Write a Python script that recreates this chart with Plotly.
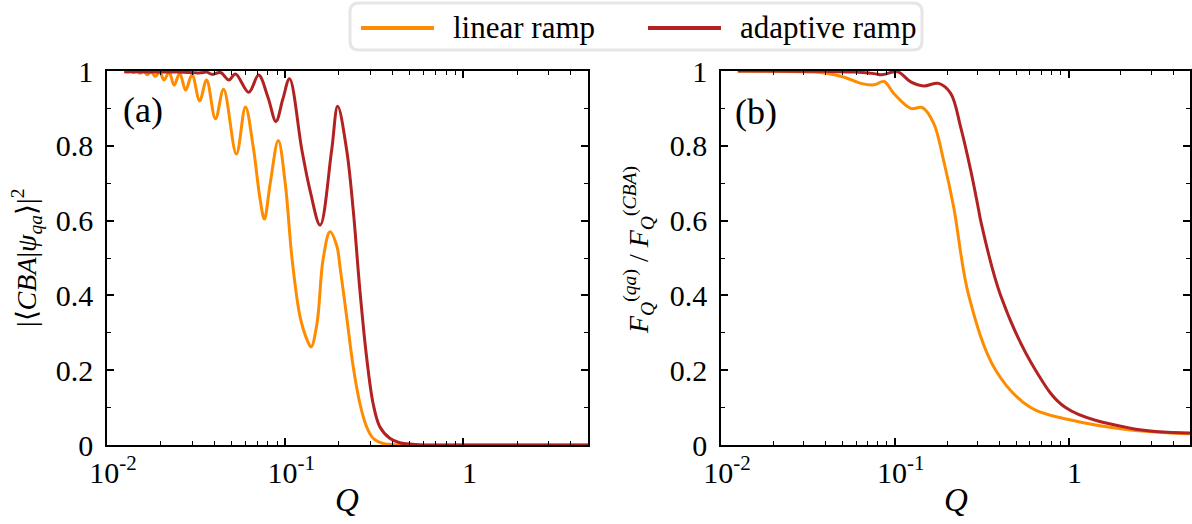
import math
import plotly.graph_objects as go

# ---------------- data ----------------
# panel (a): overlap |<CBA|psi_qa>|^2 versus Q
q_a_linear = [0.0125, 0.0130, 0.01353, 0.01408, 0.01468, 0.01534, 0.01605, 0.01684, 0.0177,
              0.01866, 0.0197, 0.0209, 0.0223, 0.0238, 0.0256, 0.0276, 0.0300, 0.0331, 0.0362,
              0.0406, 0.0451, 0.0532, 0.0598, 0.0660, 0.0724, 0.0764, 0.0824, 0.0914, 0.1000,
              0.1094, 0.1213, 0.1327, 0.1397, 0.1509, 0.1630, 0.1783, 0.1953, 0.2029, 0.2212,
              0.2408, 0.2624, 0.2860, 0.3113, 0.3540, 0.4391, 1.0, 5.0]
v_a_linear = [0.999, 0.997, 0.999, 0.996, 0.999, 0.994, 0.999, 0.990, 0.998,
              0.985, 0.998, 0.976, 0.997, 0.962, 0.994, 0.949, 0.990, 0.920, 0.976,
              0.872, 0.951, 0.778, 0.904, 0.800, 0.655, 0.604, 0.700, 0.814, 0.700,
              0.495, 0.342, 0.281, 0.262, 0.326, 0.495, 0.570, 0.530, 0.477, 0.343,
              0.209, 0.111, 0.049, 0.018, 0.004, 0.0, 0.0, 0.0]

q_a_adaptive = [0.0125, 0.025, 0.0334, 0.0362, 0.039, 0.0434, 0.0482, 0.0526, 0.0624, 0.0709,
                0.0800, 0.0887, 0.0970, 0.1057, 0.1240, 0.1379, 0.157, 0.1823, 0.197, 0.2212,
                0.2408, 0.2624, 0.2860, 0.3113, 0.3394, 0.3862, 0.4391, 0.5675, 1.0, 5.0]
v_a_adaptive = [0.998, 0.997, 0.995, 0.997, 0.991, 0.996, 0.976, 0.992, 0.943, 0.989,
                0.930, 0.865, 0.925, 0.979, 0.789, 0.680, 0.588, 0.789, 0.906, 0.789,
                0.628, 0.414, 0.236, 0.111, 0.049, 0.018, 0.006, 0.001, 0.0, 0.0]

# panel (b): F_Q^(qa) / F_Q^(CBA) versus Q
q_b_linear = [0.0125, 0.02, 0.0342, 0.045, 0.0523, 0.0638, 0.0760, 0.0868, 0.0987, 0.1236,
              0.1443, 0.1675, 0.1912, 0.2183, 0.2663, 0.3806, 0.6047, 1.0, 2.272, 5.0]
v_b_linear = [1.0, 0.999, 0.997, 0.990, 0.982, 0.967, 0.963, 0.972, 0.940, 0.900,
              0.902, 0.860, 0.760, 0.636, 0.400, 0.200, 0.100, 0.068, 0.040, 0.030]

q_b_adaptive = [0.0125, 0.04, 0.06, 0.0760, 0.0831, 0.0868, 0.1040, 0.1236, 0.1468, 0.1790,
                0.2098, 0.2394, 0.2734, 0.3040, 0.3121, 0.4066, 0.6461, 0.9612, 2.272, 5.0]
v_b_adaptive = [1.0, 0.999, 0.997, 0.993, 0.990, 0.991, 0.998, 0.971, 0.960, 0.967,
                0.940, 0.850, 0.735, 0.628, 0.600, 0.400, 0.200, 0.100, 0.045, 0.032]

series_names = ["linear ramp", "adaptive ramp"]
series_colors = ["#FF8C00", "#B22222"]

x_tickvals = [0.01, 0.1, 1]
x_ticktext = ["10<sup>-2</sup>", "10<sup>-1</sup>", "1"]
x_minor = [0.02, 0.03, 0.04, 0.05, 0.06, 0.07, 0.08, 0.09,
           0.2, 0.3, 0.4, 0.5, 0.6, 0.7, 0.8, 0.9, 2, 3, 4, 5]
y_tickvals = [0, 0.2, 0.4, 0.6, 0.8, 1]
y_ticktext = ["0", "0.2", "0.4", "0.6", "0.8", "1"]
y_minor = [0.1, 0.3, 0.5, 0.7, 0.9]

# ---------------- figure ----------------
W, H = 1192, 524
FONT = "'Liberation Serif', 'Times New Roman', Times, serif"


def px(x):
    return x / W


def py(y):
    return 1 - y / H


fig = go.Figure()
panels = [
    (q_a_linear, v_a_linear, q_a_adaptive, v_a_adaptive, "x", "y"),
    (q_b_linear, v_b_linear, q_b_adaptive, v_b_adaptive, "x2", "y2"),
]
for ql, vl, qd, vd, xa, ya in panels:
    fig.add_trace(go.Scatter(x=ql, y=vl, mode="lines", name=series_names[0],
                             line=dict(color=series_colors[0], width=3, shape="spline", smoothing=1),
                             xaxis=xa, yaxis=ya, showlegend=False))
    fig.add_trace(go.Scatter(x=qd, y=vd, mode="lines", name=series_names[1],
                             line=dict(color=series_colors[1], width=3, shape="spline", smoothing=1),
                             xaxis=xa, yaxis=ya, showlegend=False))

common_x = dict(type="log", range=[-2, math.log10(5)], showline=True, linecolor="black",
                linewidth=1.5, mirror="ticks", ticks="inside", ticklen=7, tickwidth=1.5,
                tickcolor="black", tickvals=x_tickvals, ticktext=x_ticktext,
                tickfont=dict(family=FONT, size=30, color="black"),
                showgrid=False, zeroline=False, automargin=False, ticklabelstandoff=0,
                ticklabelshift=6,
                minor=dict(tickvals=x_minor, ticks="inside", ticklen=4, tickwidth=1,
                           tickcolor="black", showgrid=False))
common_y = dict(range=[0, 1], showline=True, linecolor="black", linewidth=1.5, mirror="ticks",
                ticks="inside", ticklen=7, tickwidth=1.5, tickcolor="black",
                tickvals=y_tickvals, ticktext=y_ticktext,
                tickfont=dict(family=FONT, size=30, color="black"),
                showgrid=False, zeroline=False, automargin=False, ticklabelstandoff=6,
                minor=dict(tickvals=y_minor, ticks="inside", ticklen=4, tickwidth=1,
                           tickcolor="black", showgrid=False))

y_dom = [py(445), py(71)]
fig.update_layout(
    width=W, height=H, margin=dict(l=0, r=0, t=0, b=0, autoexpand=False),
    paper_bgcolor="white", plot_bgcolor="white",
    font=dict(family=FONT, color="black", size=30),
    xaxis=dict(common_x, domain=[px(107), px(588)], anchor="y"),
    yaxis=dict(common_y, domain=y_dom, anchor="x"),
    xaxis2=dict(common_x, domain=[px(721), px(1190)], anchor="y2"),
    yaxis2=dict(common_y, domain=y_dom, anchor="x2"),
)

ann = []
# axis titles
ann.append(dict(text="<i>Q</i>", x=px(347), y=py(500), xref="paper", yref="paper",
                showarrow=False, font=dict(family=FONT, size=33), xanchor="center", yanchor="middle"))
ann.append(dict(text="<i>Q</i>", x=px(956), y=py(500), xref="paper", yref="paper",
                showarrow=False, font=dict(family=FONT, size=33), xanchor="center", yanchor="middle"))
ann.append(dict(text="|⟨<i>CBA</i>|<i>ψ</i><sub><i>qa</i></sub>⟩|<sup>2</sup>",
                x=px(26), y=py(258), xref="paper", yref="paper", textangle=-90,
                showarrow=False, font=dict(family=FONT, size=28), xanchor="center", yanchor="middle"))
ann.append(dict(text="<i>F</i><sub><i>Q</i></sub><sup>(<i>qa</i>)</sup> / <i>F</i><sub><i>Q</i></sub><sup>(<i>CBA</i>)</sup>",
                x=px(638), y=py(250), xref="paper", yref="paper", textangle=-90,
                showarrow=False, font=dict(family=FONT, size=28), xanchor="center", yanchor="middle"))
# panel labels
ann.append(dict(text="(a)", x=px(143), y=py(110), xref="paper", yref="paper", showarrow=False,
                font=dict(family=FONT, size=36), xanchor="center", yanchor="middle"))
ann.append(dict(text="(b)", x=px(756), y=py(112), xref="paper", yref="paper", showarrow=False,
                font=dict(family=FONT, size=36), xanchor="center", yanchor="middle"))

# manual legend
shapes = []
bx0, bx1, by0, by1, r = 350, 922, 3, 50, 9
path = (f"M {px(bx0 + r)} {py(by0)} L {px(bx1 - r)} {py(by0)} "
        f"Q {px(bx1)} {py(by0)} {px(bx1)} {py(by0 + r)} "
        f"L {px(bx1)} {py(by1 - r)} Q {px(bx1)} {py(by1)} {px(bx1 - r)} {py(by1)} "
        f"L {px(bx0 + r)} {py(by1)} Q {px(bx0)} {py(by1)} {px(bx0)} {py(by1 - r)} "
        f"L {px(bx0)} {py(by0 + r)} Q {px(bx0)} {py(by0)} {px(bx0 + r)} {py(by0)} Z")
shapes.append(dict(type="path", path=path, xref="paper", yref="paper",
                   line=dict(color="#e6e6e6", width=3), fillcolor="white", layer="above"))
legend_items = [(361, 434, 451), (648, 721, 738)]
for (lx0, lx1, tx), name, col in zip(legend_items, series_names, series_colors):
    shapes.append(dict(type="line", x0=px(lx0), x1=px(lx1), y0=py(28), y1=py(28),
                       xref="paper", yref="paper", line=dict(color=col, width=4), layer="above"))
    ann.append(dict(text=name, x=px(tx), y=py(27), xref="paper", yref="paper", showarrow=False,
                    font=dict(family=FONT, size=31), xanchor="left", yanchor="middle"))

fig.update_layout(annotations=ann, shapes=shapes)
fig.write_html("out.html", config={"displayModeBar": False},
               post_script="document.body.style.margin='0px';")
